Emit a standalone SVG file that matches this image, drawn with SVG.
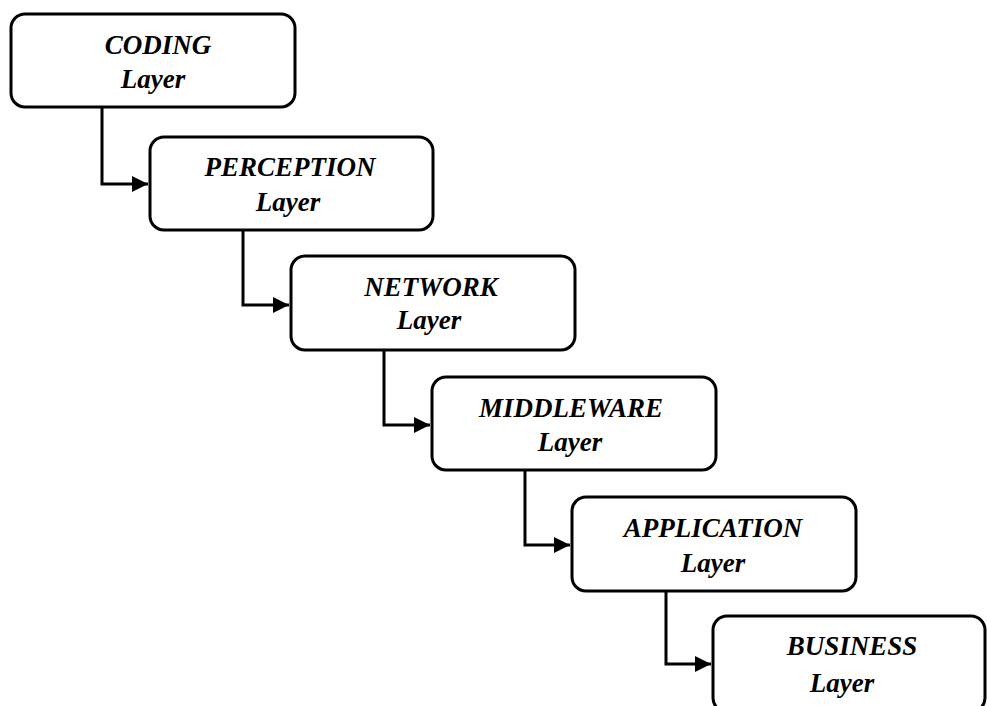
<svg xmlns="http://www.w3.org/2000/svg" width="987" height="706" viewBox="0 0 987 706">
<defs>
<style>
.box{fill:#fff;stroke:#000;stroke-width:3}
.t{font-family:"Liberation Serif","Times New Roman",serif;font-size:27px;font-weight:bold;font-style:italic;fill:#000;text-anchor:middle}
.c{fill:none;stroke:#000;stroke-width:3}
</style>
<marker id="ah" markerUnits="userSpaceOnUse" markerWidth="17" markerHeight="18" viewBox="0 0 17 18" refX="16" refY="9" orient="auto">
<path d="M0,1 L16,9 L0,17 Z" fill="#000"/>
</marker>
</defs>
<rect width="987" height="706" fill="#fff"/>
<g id="connectors">
<path class="c" d="M102,107 V184 H148" marker-end="url(#ah)"/>
<path class="c" d="M243,230 V305 H289" marker-end="url(#ah)"/>
<path class="c" d="M384,350 V425 H430" marker-end="url(#ah)"/>
<path class="c" d="M525,470 V545 H570" marker-end="url(#ah)"/>
<path class="c" d="M666,591 V664 H711" marker-end="url(#ah)"/>
</g>
<g id="coding">
<rect class="box" x="11" y="14" width="284" height="93" rx="14"/>
<text class="t" x="158" y="54">CODING</text>
<text class="t" x="153" y="88">Layer</text>
</g>
<g id="perception">
<rect class="box" x="150" y="137" width="283" height="93" rx="14"/>
<text class="t" x="290" y="176">PERCEPTION</text>
<text class="t" x="288" y="211">Layer</text>
</g>
<g id="network">
<rect class="box" x="291" y="256" width="284" height="94" rx="14"/>
<text class="t" x="431" y="296">NETWORK</text>
<text class="t" x="429" y="329">Layer</text>
</g>
<g id="middleware">
<rect class="box" x="432" y="377" width="284" height="93" rx="14"/>
<text class="t" x="571" y="417">MIDDLEWARE</text>
<text class="t" x="570" y="451">Layer</text>
</g>
<g id="application">
<rect class="box" x="572" y="497" width="284" height="94" rx="14"/>
<text class="t" x="713" y="537">APPLICATION</text>
<text class="t" x="713" y="572">Layer</text>
</g>
<g id="business">
<rect class="box" x="713" y="616" width="272" height="96" rx="14"/>
<text class="t" x="852" y="655">BUSINESS</text>
<text class="t" x="842" y="692">Layer</text>
</g>
</svg>
